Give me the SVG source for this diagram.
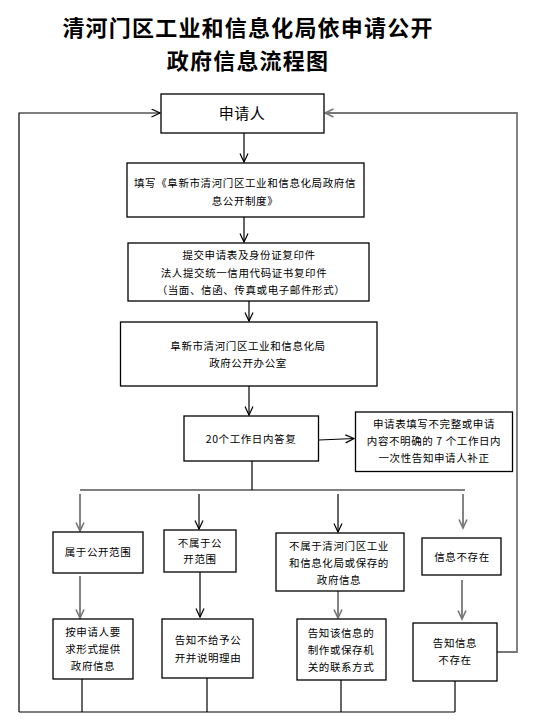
<svg xmlns="http://www.w3.org/2000/svg" width="537" height="722" viewBox="0 0 537 722">
<style>
.box{fill:#fff;stroke:#000;stroke-width:1.3}
.t{font-family:"Noto Sans CJK SC","Liberation Sans",sans-serif;font-size:10.5px;letter-spacing:0.6px;text-anchor:middle;fill:#000}
.title{font-family:"Noto Sans CJK SC","Liberation Sans",sans-serif;font-size:22px;letter-spacing:1.2px;font-weight:bold;text-anchor:middle;fill:#000}
.k{fill:none;stroke:#000;stroke-width:1.2}
.g{fill:none;stroke:#777;stroke-width:1.8}
</style>
<defs>
<marker id="ab" markerUnits="userSpaceOnUse" markerWidth="11" markerHeight="11" refX="9" refY="4.5" orient="auto"><path d="M0.5,0.5 L9,4.5 L0.5,8.5" fill="none" stroke="#000" stroke-width="1.2"/></marker>
<marker id="ag" markerUnits="userSpaceOnUse" markerWidth="11" markerHeight="11" refX="9" refY="4.5" orient="auto"><path d="M0.5,0.5 L9,4.5 L0.5,8.5" fill="none" stroke="#777" stroke-width="1.6"/></marker>
</defs>
<g id="title">
<text class="title" x="248" y="36">清河门区工业和信息化局依申请公开</text>
<text class="title" x="248" y="68.6">政府信息流程图</text>
</g>
<g id="connectors">
<polyline class="k" points="19,712 19,113 160,113" marker-end="url(#ab)"/>
<polyline class="g" points="497,652 517,652 517,113 325,113" marker-end="url(#ag)"/>
<line class="k" x1="244" y1="133" x2="244" y2="162" marker-end="url(#ab)"/>
<line class="k" x1="244" y1="217" x2="244" y2="242" marker-end="url(#ab)"/>
<line class="k" x1="249" y1="301" x2="249" y2="321" marker-end="url(#ab)"/>
<line class="k" x1="249" y1="386" x2="249" y2="415" marker-end="url(#ab)"/>
<line class="k" x1="319" y1="440" x2="354" y2="438.5" marker-end="url(#ab)"/>
<line class="k" x1="252" y1="461" x2="252" y2="490"/>
<line class="k" x1="80" y1="490" x2="465" y2="490"/>
<line class="g" x1="80" y1="494" x2="80" y2="531" marker-end="url(#ag)"/>
<line class="k" x1="199" y1="494" x2="199" y2="529" marker-end="url(#ab)"/>
<line class="k" x1="338" y1="494" x2="338" y2="532" marker-end="url(#ab)"/>
<line class="g" x1="463" y1="494" x2="463" y2="528" marker-end="url(#ag)"/>
<line class="g" x1="80" y1="576" x2="80" y2="618" marker-end="url(#ag)"/>
<line class="k" x1="200" y1="572" x2="200" y2="617" marker-end="url(#ab)"/>
<line class="g" x1="338" y1="591" x2="338" y2="618" marker-end="url(#ag)"/>
<line class="g" x1="462" y1="580" x2="462" y2="619" marker-end="url(#ag)"/>
<line class="k" x1="82" y1="679" x2="82" y2="712"/>
<line class="k" x1="207" y1="678" x2="207" y2="712"/>
<line class="k" x1="341" y1="680" x2="341" y2="712"/>
<line class="k" x1="455" y1="681" x2="455" y2="712"/>
<line class="k" x1="19" y1="712" x2="455" y2="712"/>
</g>
<g id="n-applicant">
<rect class="box" x="161" y="94" width="163" height="39"/>
<text class="t" x="242" y="119" style="font-size:15px;letter-spacing:0.5px">申请人</text>
</g>
<g id="n-fill">
<rect class="box" x="127" y="163" width="237" height="54"/>
<text class="t" x="245" y="187">填写《阜新市清河门区工业和信息化局政府信</text>
<text class="t" x="245" y="205">息公开制度》</text>
</g>
<g id="n-submit">
<rect class="box" x="128" y="243" width="241" height="58"/>
<text class="t" x="249" y="259">提交申请表及身份证复印件</text>
<text class="t" x="244" y="277">法人提交统一信用代码证书复印件</text>
<text class="t" x="251" y="294">（当面、信函、传真或电子邮件形式）</text>
</g>
<g id="n-office">
<rect class="box" x="120.5" y="322" width="256.5" height="64"/>
<text class="t" x="248" y="350">阜新市清河门区工业和信息化局</text>
<text class="t" x="248" y="367">政府公开办公室</text>
</g>
<g id="n-reply">
<rect class="box" x="184" y="416" width="134.5" height="45"/>
<text class="t" x="251" y="443">20个工作日内答复</text>
</g>
<g id="n-incomplete">
<rect class="box" x="355.5" y="412" width="157" height="59.5"/>
<text class="t" x="434" y="428">申请表填写不完整或申请</text>
<text class="t" x="434" y="445">内容不明确的 7 个工作日内</text>
<text class="t" x="434" y="462">一次性告知申请人补正</text>
</g>
<g id="n-public">
<rect class="box" x="53" y="532" width="90" height="41"/>
<text class="t" x="98" y="556">属于公开范围</text>
</g>
<g id="n-notpublic">
<rect class="box" x="164" y="530" width="72" height="42"/>
<text class="t" x="200" y="547">不属于公</text>
<text class="t" x="200" y="563">开范围</text>
</g>
<g id="n-notowned">
<rect class="box" x="276" y="533" width="128" height="58"/>
<text class="t" x="339" y="550">不属于清河门区工业</text>
<text class="t" x="339" y="567">和信息化局或保存的</text>
<text class="t" x="339" y="584">政府信息</text>
</g>
<g id="n-notexist">
<rect class="box" x="422" y="538" width="79" height="37"/>
<text class="t" x="462" y="561">信息不存在</text>
</g>
<g id="n-provide">
<rect class="box" x="53" y="619" width="80" height="60"/>
<text class="t" x="93" y="636">按申请人要</text>
<text class="t" x="93" y="653">求形式提供</text>
<text class="t" x="93" y="670">政府信息</text>
</g>
<g id="n-refuse">
<rect class="box" x="162" y="619" width="91" height="59"/>
<text class="t" x="208" y="644">告知不给予公</text>
<text class="t" x="208" y="662">开并说明理由</text>
</g>
<g id="n-contact">
<rect class="box" x="297" y="619" width="89" height="61"/>
<text class="t" x="341" y="637">告知该信息的</text>
<text class="t" x="341" y="654">制作或保存机</text>
<text class="t" x="341" y="671">关的联系方式</text>
</g>
<g id="n-tellnotexist">
<rect class="box" x="413" y="623" width="84" height="58"/>
<text class="t" x="455" y="647">告知信息</text>
<text class="t" x="455" y="664">不存在</text>
</g>
</svg>
